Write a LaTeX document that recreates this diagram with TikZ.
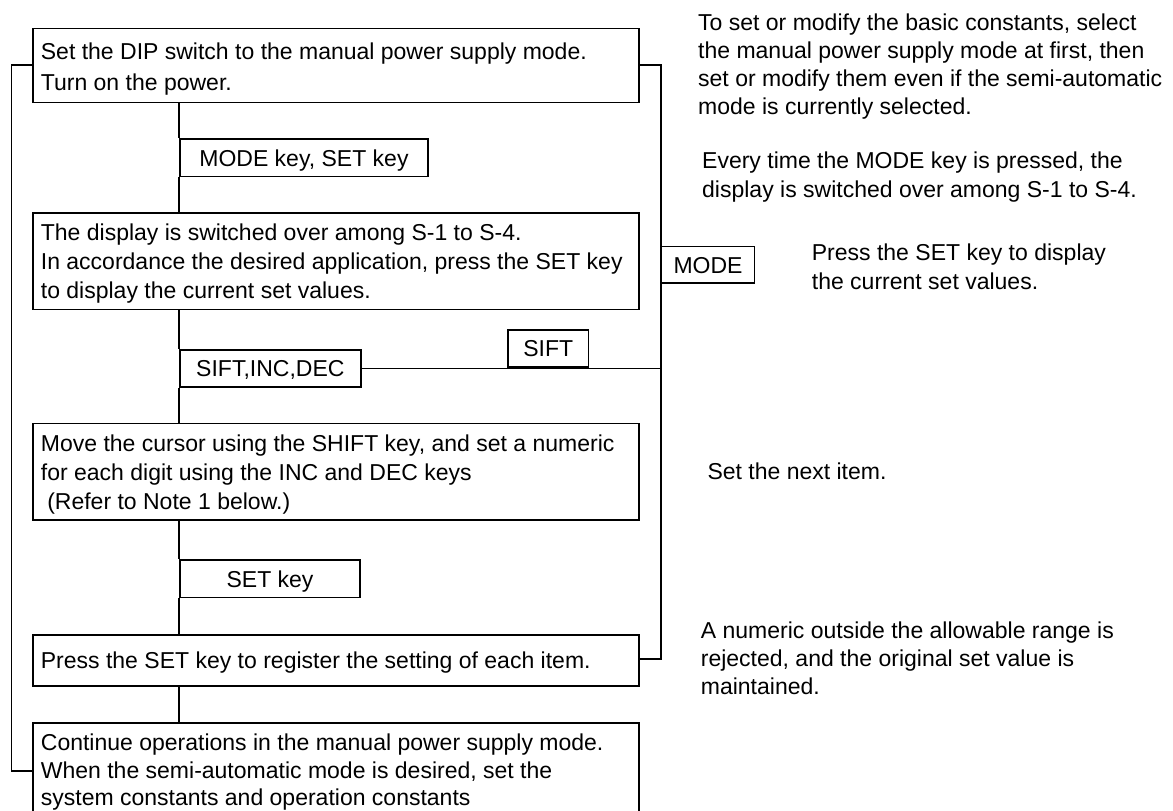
\documentclass[tikz,border=0pt]{standalone}
\usepackage{fontspec}
\setmainfont{Liberation Sans}
\newcommand\mlines[2]{\parbox[t]{750pt}{\fontsize{23pt}{#1}\selectfont\raggedright #2}}
\tikzset{
  bigbox/.style={draw, line width=1.7pt, inner sep=0pt, anchor=north west},
  keybox/.style={draw, line width=1.7pt, inner sep=0pt, anchor=north west,
    font=\fontsize{23pt}{27pt}\selectfont, text height=17pt, text depth=0pt},
  txt/.style={anchor=base west, inner sep=0pt},
  conn/.style={line width=1.7pt}
}
\begin{document}
\begin{tikzpicture}[x=1pt,y=-1pt]
\useasboundingbox (0,0) rectangle (1173,811);
\clip (0,0) rectangle (1173,811);
% main boxes
\node[bigbox, minimum width=606.1pt, minimum height=74pt] (b1) at (32.3,27.7) {};
\node[bigbox, minimum width=606.1pt, minimum height=96.2pt] (b2) at (32.3,212.3) {};
\node[bigbox, minimum width=606.1pt, minimum height=96.3pt] (b3) at (32.3,422.7) {};
\node[bigbox, minimum width=606.1pt, minimum height=51pt] (b4) at (32.3,634) {};
\node[bigbox, minimum width=606.1pt, minimum height=120pt] (b5) at (32.3,722.3) {};
% key boxes
\node[keybox, minimum width=248.2pt, minimum height=37.4pt] (k1) at (179,138.3) {MODE key, SET key};
\node[keybox, minimum width=181pt, minimum height=37pt] (k2) at (179,349) {SIFT,INC,DEC};
\node[keybox, anchor=south west, minimum width=80.2pt, minimum height=36.5pt] (k3) at (507.3,367.5) {SIFT};
\node[keybox, minimum width=180.4pt, minimum height=37.4pt] (k4) at (179,559.3) {SET key};
\node[keybox, minimum width=93pt, minimum height=36.6pt] (k5) at (660.7,245.7) {MODE};
% texts in boxes
\node[txt] (t1) at (40.7,59.3) {\mlines{30.7pt}{Set the DIP switch to the manual power supply mode.\\Turn on the power.}};
\node[txt] (t2) at (40.7,240.5) {\mlines{29pt}{The display is switched over among S-1 to S-4.\\In accordance the desired application, press the SET key\\to display the current set values.}};
\node[txt] (t3) at (40.7,451.7) {\mlines{28.8pt}{Move the cursor using the SHIFT key, and set a numeric\\for each digit using the INC and DEC keys\\\hspace*{6.4pt}(Refer to Note 1 below.)}};
\node[txt] (t4) at (40.7,668.3) {\mlines{28pt}{Press the SET key to register the setting of each item.}};
\node[txt] (t5) at (40.7,750.5) {\mlines{27.5pt}{Continue operations in the manual power supply mode.\\When the semi-automatic mode is desired, set the\\system constants and operation constants}};
% right-hand notes
\node[txt] (n1) at (698,30) {\mlines{28.3pt}{To set or modify the basic constants, select\\the manual power supply mode at first, then\\set or modify them even if the semi-automatic\\mode is currently selected.}};
\node[txt] (n2) at (702,168.3) {\mlines{29pt}{Every time the MODE key is pressed, the\\display is switched over among S-1 to S-4.}};
\node[txt] (n3) at (811.7,260) {\mlines{29.3pt}{Press the SET key to display\\the current set values.}};
\node[txt] (n4) at (707.3,479.3) {\mlines{28pt}{Set the next item.}};
\node[txt] (n5) at (700.7,638.3) {\mlines{28.3pt}{A numeric outside the allowable range is\\rejected, and the original set value is\\maintained.}};
% bracket coordinates
\coordinate (l1) at (11.5,65.3);
\coordinate (l2) at (11.5,770.7);
\coordinate (r1) at (660.7,65.3);
\coordinate (r2) at (660.7,659);
% trunk
\draw[conn] (b1.south -| k1.west) -- (k1.north west);
\draw[conn] (k1.south west) -- (b2.north -| k1.west);
\draw[conn] (b2.south -| k2.west) -- (k2.north west);
\draw[conn] (k2.south west) -- (b3.north -| k2.west);
\draw[conn] (b3.south -| k4.west) -- (k4.north west);
\draw[conn] (k4.south west) -- (b4.north -| k4.west);
\draw[conn] (b4.south -| k4.west) -- (b5.north -| k4.west);
% brackets
\draw[conn] (b1.west |- l1) -- (l1) -- (l2) -- (b5.west |- l2);
\draw[conn] (b1.east |- r1) -- (r1) -- (r2) -- (b4.east |- r2);
\draw[conn] (k2.east) -- (k2.east -| r1);
\end{tikzpicture}
\end{document}
